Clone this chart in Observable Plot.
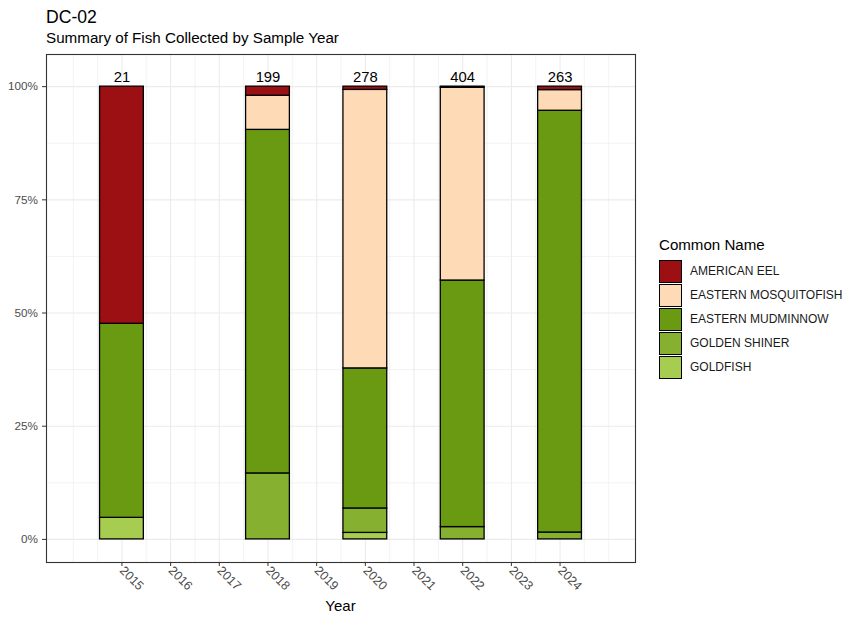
<!DOCTYPE html>
<html><head><meta charset="utf-8">
<script src="https://cdn.jsdelivr.net/npm/d3@7"></script>
<script src="https://cdn.jsdelivr.net/npm/@observablehq/plot@0.6"></script>
<style>
body{margin:0;background:#fff;font-family:"Liberation Sans",Arial,sans-serif;}
#wrap{position:relative;width:861px;height:622px;overflow:hidden;}
#wrap svg{position:absolute;left:0;top:0;}
.abs{position:absolute;white-space:nowrap;line-height:normal;}
.sw{position:absolute;width:21px;height:21px;border:1px solid #000;box-sizing:content-box;}
</style></head><body><div id="wrap"></div>
<script>
// ---- data ----
const years = [2015, 2018, 2020, 2022, 2024];
const species = ["AMERICAN EEL", "EASTERN MOSQUITOFISH", "EASTERN MUDMINNOW", "GOLDEN SHINER", "GOLDFISH"];
const speciesColors = ["#9C0F13", "#FFDAB6", "#6A9912", "#85B030", "#A6CC50"];
const americanEel = [11, 4, 2, 1, 2];
const easternMosquitofish = [0, 15, 171, 172, 12];
const easternMudminnow = [9, 151, 86, 220, 245];
const goldenShiner = [0, 29, 15, 11, 4];
const goldfish = [1, 0, 4, 0, 0];
const xTickLabels = [2015, 2016, 2017, 2018, 2019, 2020, 2021, 2022, 2023, 2024];
const yTickValues = [0, 0.25, 0.5, 0.75, 1];
const yTickLabels = ["0%", "25%", "50%", "75%", "100%"];

const countsBySpecies = {
  "AMERICAN EEL": americanEel,
  "EASTERN MOSQUITOFISH": easternMosquitofish,
  "EASTERN MUDMINNOW": easternMudminnow,
  "GOLDEN SHINER": goldenShiner,
  "GOLDFISH": goldfish
};

// build stacked proportions (bottom = last species)
const rows = [];
const totals = [];
years.forEach((yr, i) => {
  const total = species.reduce((s, sp) => s + countsBySpecies[sp][i], 0);
  totals.push({year: yr, total});
  let acc = 0;
  [...species].reverse().forEach(sp => {
    const c = countsBySpecies[sp][i];
    if (c > 0) {
      rows.push({year: yr, species: sp, y1: acc / total, y2: (acc + c) / total});
      acc += c;
    }
  });
});

const xLim = [2014, 2025];
const xPad = (xLim[1] - xLim[0]) * 0.05;
const yLim = [0, 1.02];
const yPad = (yLim[1] - yLim[0]) * 0.05;
const xMinor = d3.range(xLim[0], xLim[1] + 0.01, 0.5).filter(v => !xTickLabels.includes(v));
const yMinor = [0.125, 0.375, 0.625, 0.875];

const W = 861, H = 622;
const chart = Plot.plot({
  width: W, height: H,
  marginLeft: 46, marginRight: 226, marginTop: 54, marginBottom: 60,
  style: {fontFamily: "'Liberation Sans', Arial, sans-serif", background: "transparent"},
  x: {domain: [xLim[0] - xPad, xLim[1] + xPad]},
  y: {domain: [yLim[0] - yPad, yLim[1] + yPad]},
  color: {domain: species, range: speciesColors},
  marks: [
    Plot.ruleX(xMinor, {stroke: "#EBEBEB", strokeWidth: 0.6}),
    Plot.ruleY(yMinor, {stroke: "#EBEBEB", strokeWidth: 0.6}),
    Plot.ruleX(xTickLabels, {stroke: "#EBEBEB", strokeWidth: 1.1}),
    Plot.ruleY(yTickValues, {stroke: "#EBEBEB", strokeWidth: 1.1}),
    Plot.rectY(rows, {x1: d => d.year - 0.45, x2: d => d.year + 0.45, y1: "y1", y2: "y2", fill: "species", stroke: "#000", strokeWidth: 1.3}),
    Plot.text(totals, {x: "year", y: () => 1.02, text: d => String(d.total), fontSize: 14.8, fill: "#000"}),
    Plot.frame({stroke: "#333333", strokeWidth: 1.1}),
    Plot.axisX({ticks: xTickLabels, tickFormat: d => String(d), tickRotate: 45, tickSize: 4, tickPadding: 2,
      fontSize: 12.5, stroke: "#333333", fill: "#4D4D4D", label: null}),
    Plot.axisY({ticks: yTickValues, tickFormat: (d, i) => yTickLabels[yTickValues.indexOf(d)], tickSize: 4, tickPadding: 4.5,
      fontSize: 11.7, stroke: "#333333", fill: "#4D4D4D", label: null})
  ]
});
const wrap = document.getElementById("wrap");
wrap.appendChild(chart);

function addText(txt, left, baseline, size, color, extra) {
  const d = document.createElement("div");
  d.className = "abs";
  d.textContent = txt;
  d.style.fontSize = size + "px";
  d.style.color = color;
  d.style.left = left + "px";
  d.style.top = (baseline - 0.92 * size) + "px";
  if (extra) Object.assign(d.style, extra);
  wrap.appendChild(d);
  return d;
}
addText("DC-02", 46, 22.7, 17.6, "#000");
addText("Summary of Fish Collected by Sample Year", 46, 43, 15.2, "#000");
addText("Year", 340.5, 610.5, 15, "#000", {transform: "translateX(-50%)"});
addText("Common Name", 659, 249.5, 15.1, "#000");
species.forEach((sp, i) => {
  const s = document.createElement("div");
  s.className = "sw";
  s.style.left = "659px";
  s.style.top = (260 + 24 * i) + "px";
  s.style.background = speciesColors[i];
  wrap.appendChild(s);
  addText(sp, 690, 271 + 24 * i + 4.3, 12, "#1A1A1A");
});
</script></body></html>
